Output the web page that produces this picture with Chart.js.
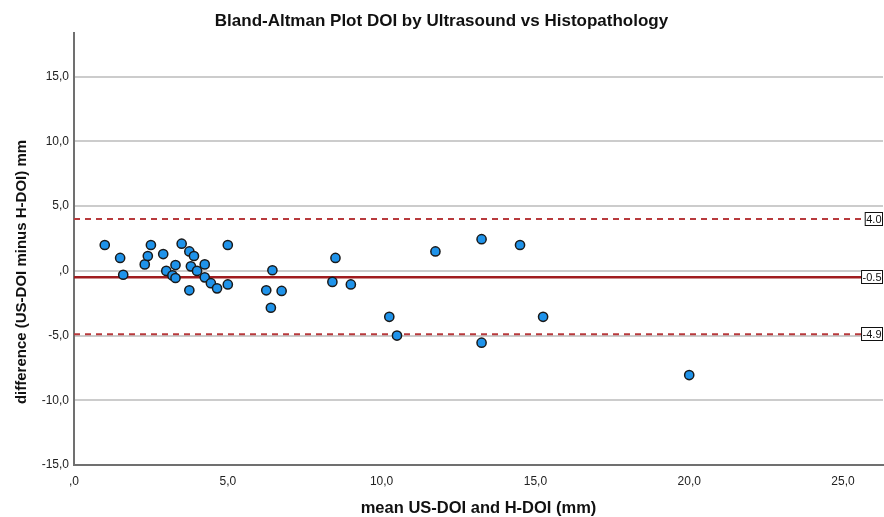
<!DOCTYPE html>
<html>
<head>
<meta charset="utf-8">
<script src="https://cdn.jsdelivr.net/npm/chart.js@4.4.0/dist/chart.umd.min.js"></script>
<style>
  html, body { margin: 0; padding: 0; background: #fff; }
  #wrap { width: 884px; height: 517px; }
</style>
</head>
<body>
<div id="wrap"><canvas id="baChart"></canvas></div>
<script>
// mean of the two methods (x) and their difference (y), one entry per case
const meanValues = [1.0, 1.5, 1.6, 2.3, 2.4, 2.5, 2.9, 3.0, 3.2, 3.3, 3.3, 3.5, 3.75, 3.75, 3.8, 3.9, 4.0, 4.25, 4.25,
  4.45, 4.65, 5.0, 5.0, 6.25, 6.4, 6.45, 6.75, 8.5, 8.4, 9.0, 10.25, 10.5, 11.75, 13.25, 13.25, 14.5, 15.25, 20.0];
const diffValues = [2.0, 1.0, -0.3, 0.5, 1.15, 2.0, 1.3, 0.0, -0.35, 0.45, -0.55, 2.1, 1.5, -1.5, 0.35, 1.15, 0.0, 0.5, -0.5,
  -0.95, -1.35, 2.0, -1.05, -1.5, -2.85, 0.05, -1.55, 1.0, -0.85, -1.05, -3.55, -5.0, 1.5, 2.45, -5.55, 2.0, -3.55, -8.05];

const xTicks = [0, 5, 10, 15, 20, 25];
const yTicks = [-15, -10, -5, 0, 5, 10, 15];

// upper limit, mean difference, lower limit
const limitValues = [4.0, -0.5, -4.9];
const limitLabels = ['4.0', '-0.5', '-4.9'];

const fontFamily = "'Liberation Sans', Arial, sans-serif";

function fmtTick(v) {
  if (v === 0) return ',0';
  return v.toFixed(1).replace('.', ',');
}

const points = meanValues.map((m, i) => ({ x: m, y: diffValues[i] }));

const refLines = {
  id: 'refLines',
  beforeDatasetsDraw(chart) {
    const { ctx, chartArea, scales } = chart;
    limitValues.forEach((v, i) => {
      const y = scales.y.getPixelForValue(v);
      ctx.save();
      ctx.beginPath();
      if (i === 1) {
        ctx.strokeStyle = '#a01c1f';
        ctx.lineWidth = 2.5;
      } else {
        ctx.strokeStyle = '#b83a3d';
        ctx.lineWidth = 2;
        ctx.setLineDash([6, 5]);
      }
      ctx.moveTo(chartArea.left, y);
      ctx.lineTo(chartArea.right, y);
      ctx.stroke();
      ctx.restore();
    });
  },
  afterDatasetsDraw(chart) {
    const { ctx, chartArea, scales } = chart;
    ctx.save();
    ctx.font = '11px ' + fontFamily;
    ctx.textBaseline = 'middle';
    ctx.textAlign = 'right';
    limitValues.forEach((v, i) => {
      const y = Math.round(scales.y.getPixelForValue(v));
      const w = ctx.measureText(limitLabels[i]).width + 3;
      const x1 = chartArea.right;
      ctx.fillStyle = '#fff';
      ctx.fillRect(x1 - w, y - 7, w, 14);
      ctx.strokeStyle = '#111';
      ctx.lineWidth = 1;
      ctx.strokeRect(x1 - w + 0.5, y - 6.5, w - 1, 13);
      ctx.fillStyle = '#111';
      ctx.fillText(limitLabels[i], x1 - 1.5, y + 0.5);
    });
    ctx.restore();
  }
};

const yTitle = {
  id: 'yTitle',
  afterDraw(chart) {
    const { ctx } = chart;
    ctx.save();
    ctx.translate(22, 272);
    ctx.rotate(-Math.PI / 2);
    ctx.font = 'bold 15px ' + fontFamily;
    ctx.fillStyle = '#111';
    ctx.textAlign = 'center';
    ctx.textBaseline = 'middle';
    ctx.fillText('difference (US-DOI minus H-DOI) mm', 0, 0);
    ctx.restore();
  }
};

new Chart(document.getElementById('baChart'), {
  type: 'scatter',
  data: {
    datasets: [{
      data: points,
      backgroundColor: '#1f93ea',
      borderColor: '#1a1a1a',
      borderWidth: 1.5,
      pointRadius: 4.6,
      pointHoverRadius: 4.6
    }]
  },
  options: {
    responsive: true,
    maintainAspectRatio: false,
    animation: false,
    layout: { autoPadding: false, padding: { left: 0, right: 1, top: 0, bottom: 0 } },
    plugins: {
      legend: { display: false },
      tooltip: { enabled: false },
      title: {
        display: true,
        text: 'Bland-Altman Plot DOI by Ultrasound vs Histopathology',
        color: '#111',
        font: { family: fontFamily, size: 17, weight: 'bold', lineHeight: 1.2 },
        padding: { top: 11, bottom: 2 }
      }
    },
    scales: {
      x: {
        type: 'linear',
        min: 0,
        max: 26.3,
        afterBuildTicks: s => { s.ticks = xTicks.map(v => ({ value: v })); },
        afterFit: s => { s.height = 52; s.paddingLeft = 0; s.paddingRight = 0; },
        grid: { display: false, drawTicks: false },
        border: { display: true, color: '#707070', width: 2 },
        ticks: {
          callback: v => fmtTick(v),
          color: '#222',
          padding: 9,
          maxRotation: 0,
          font: { family: fontFamily, size: 12 }
        },
        title: {
          display: true,
          text: 'mean US-DOI and H-DOI (mm)',
          color: '#111',
          font: { family: fontFamily, size: 16.5, weight: 'bold', lineHeight: 1.0 },
          padding: { top: 0, bottom: 0 }
        }
      },
      y: {
        type: 'linear',
        min: -15,
        max: 18.35,
        afterBuildTicks: s => { s.ticks = yTicks.map(v => ({ value: v })); },
        afterFit: s => { s.width = 74; },
        grid: { color: '#cccccc', lineWidth: 2, drawTicks: false },
        border: { display: true, color: '#707070', width: 2 },
        ticks: {
          callback: v => fmtTick(v),
          color: '#222',
          padding: 5,
          font: { family: fontFamily, size: 12 }
        }
      }
    }
  },
  plugins: [refLines, yTitle]
});
</script>
</body>
</html>
